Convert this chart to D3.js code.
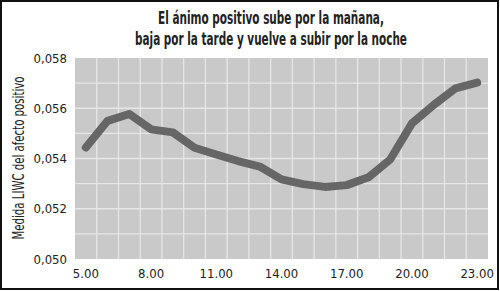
<!DOCTYPE html>
<html>
<head>
<meta charset="utf-8">
<script src="https://cdn.jsdelivr.net/npm/d3@7"></script>
<style>
  body { margin: 0; background: #fff; }
  svg { display: block; }
  text { font-family: "DejaVu Sans Condensed", "Open Sans", sans-serif; fill: #222; }
</style>
</head>
<body>
<div id="chart"></div>
<script>
// datos
const horas = ['5.00','6.00','7.00','8.00','9.00','10.00','11.00','12.00','13.00','14.00',
  '15.00','16.00','17.00','18.00','19.00','20.00','21.00','22.00','23.00'];
const afecto = [0.05444, 0.05550, 0.05577, 0.05516, 0.05504, 0.05443, 0.05416, 0.05390, 0.05368,
  0.05317, 0.05298, 0.05287, 0.05294, 0.05325, 0.05396, 0.05540, 0.05613, 0.05679, 0.05702];
const etiquetasX = ['5.00','8.00','11.00','14.00','17.00','20.00','23.00'];
const ticksY = [0.050, 0.052, 0.054, 0.056, 0.058];
const gridY = [0.051, 0.052, 0.053, 0.054, 0.055, 0.056, 0.057];
const titulo = ['El ánimo positivo sube por la mañana,', 'baja por la tarde y vuelve a subir por la noche'];
const anchoTitulo = [226, 272];

const W = 500, H = 291;
let margin = {top: 58, right: 12, bottom: 32, left: 75},
    width = W - margin.left - margin.right,
    height = H - margin.top - margin.bottom;

let svg = d3.select('#chart').append('svg')
    .attr('width', W).attr('height', H);

// ajusta el ancho de un texto estrechandolo en horizontal
function estrechar(sel, ancho) {
    sel.each(function(d, i) {
        let t = d3.select(this);
        let w = this.getComputedTextLength();
        let k = (typeof ancho === 'function' ? ancho(d, i) : ancho) / w;
        t.attr('transform', (t.attr('transform') || '') + ' scale(' + k + ',1)');
    });
}

// marco
svg.append('rect')
    .attr('x', 1).attr('y', 1).attr('width', W - 3).attr('height', H - 3)
    .attr('fill', 'none').attr('stroke', '#111').attr('stroke-width', 2);

// titulo
svg.append('g').selectAll('text').data(titulo).enter().append('text')
    .attr('transform', (d, i) => 'translate(271,' + (24 + i * 20.5) + ')')
    .attr('text-anchor', 'middle')
    .style('font-size', '17px').style('font-weight', 'bold')
    .text(d => d)
    .call(estrechar, (d, i) => anchoTitulo[i]);

let chart = svg.append('g')
    .attr('transform', 'translate(' + margin.left + ',' + margin.top + ')');

//Eje X
let x = d3.scaleBand().domain(horas).range([0, width]).padding(0);
//Eje Y
let y = d3.scaleLinear().domain([0.050, 0.058]).range([height, 0]);

chart.append('rect')
    .attr('width', width).attr('height', height).attr('fill', '#c9c9c9');

// rejilla
chart.append('g').selectAll('line').data(horas.slice(1)).enter().append('line')
    .attr('x1', d => x(d)).attr('x2', d => x(d))
    .attr('y1', 0).attr('y2', height)
    .attr('stroke', '#e6e6e6').attr('stroke-width', 1.3);

chart.append('g').selectAll('line').data(gridY).enter().append('line')
    .attr('x1', 0).attr('x2', width)
    .attr('y1', d => y(d)).attr('y2', d => y(d))
    .attr('stroke', '#e6e6e6').attr('stroke-width', 1.3);

let yAxis = d3.axisLeft(y).tickValues(ticksY).tickSize(0).tickPadding(8)
    .tickFormat(d => d3.format('.3f')(d).replace('.', ','));
chart.append('g').call(yAxis)
    .call(g => g.select('.domain').remove())
    .selectAll('text').style('font-size', '13px').attr('fill', '#222');

let xAxis = d3.axisBottom(x).tickValues(etiquetasX).tickSize(0).tickPadding(10);
chart.append('g').attr('transform', 'translate(0,' + height + ')').call(xAxis)
    .call(g => g.select('.domain').remove())
    .selectAll('text').style('font-size', '13px').attr('fill', '#222');

// titulo eje Y
svg.append('text')
    .attr('transform', 'translate(24,158) rotate(-90)')
    .attr('text-anchor', 'middle')
    .style('font-size', '16px')
    .text('Medida LIWC del afecto positivo')
    .call(estrechar, 163);

// linea
let line = d3.line()
    .x((d, i) => x(horas[i]) + x.bandwidth() / 2)
    .y(d => y(d));

chart.append('path')
    .datum(afecto)
    .attr('d', line)
    .attr('fill', 'none')
    .attr('stroke', '#666')
    .attr('stroke-width', 8)
    .attr('stroke-linecap', 'round')
    .attr('stroke-linejoin', 'round');
</script>
</body>
</html>
